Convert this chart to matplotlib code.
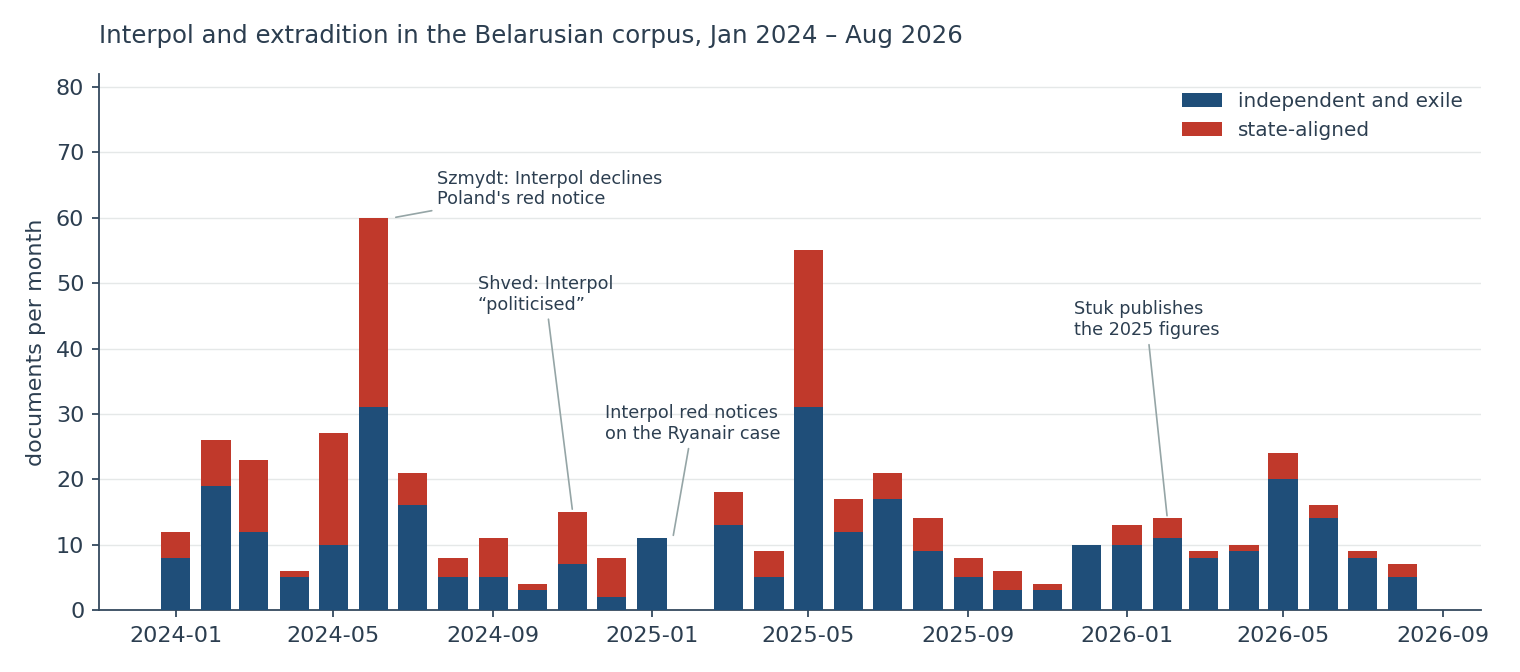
import matplotlib
matplotlib.use("Agg")
import matplotlib.pyplot as plt
import matplotlib.dates as mdates
import numpy as np

# monthly counts, Jan 2024 - Aug 2026 (Feb 2025 empty)
months = ["2024-01", "2024-02", "2024-03", "2024-04", "2024-05", "2024-06",
          "2024-07", "2024-08", "2024-09", "2024-10", "2024-11", "2024-12",
          "2025-01", "2025-02", "2025-03", "2025-04", "2025-05", "2025-06",
          "2025-07", "2025-08", "2025-09", "2025-10", "2025-11", "2025-12",
          "2026-01", "2026-02", "2026-03", "2026-04", "2026-05", "2026-06",
          "2026-07", "2026-08"]
independent = [8, 19, 12, 5, 10, 31, 16, 5, 5, 3, 7, 2,
               11, 0, 13, 5, 31, 12, 17, 9, 5, 3, 3, 10,
               10, 11, 8, 9, 20, 14, 8, 5]
state_aligned = [4, 7, 11, 1, 17, 29, 5, 3, 6, 1, 8, 6,
                 0, 0, 5, 4, 24, 5, 4, 5, 3, 3, 1, 0,
                 3, 3, 1, 1, 4, 2, 1, 2]

notes = [
    ("Szmydt: Interpol declines\nPoland's red notice", "2024-06-16", 60, "2024-07-20", 64.4),
    ("Shved: Interpol\n\u201cpoliticised\u201d", "2024-11-01", 15, "2024-08-20", 48.3),
    ("Interpol red notices\non the Ryanair case", "2025-01-17", 11, "2024-11-26", 28.5),
    ("Stuk publishes\nthe 2025 figures", "2026-02-01", 14, "2025-11-21", 44.4),
]

INK = "#2c3e50"
BLUE = "#1f4e79"
RED = "#c0392b"

dates = np.array([np.datetime64(m + "-01") for m in months])
x = mdates.date2num(dates)

fig = plt.figure(figsize=(15.2, 6.72), dpi=100)
ax = fig.add_axes([0.0651, 0.0923, 0.9092, 0.7976])

ax.bar(x, independent, width=22.5, color=BLUE, label="independent and exile", zorder=3)
ax.bar(x, state_aligned, width=22.5, bottom=independent, color=RED,
       label="state-aligned", zorder=3)

for text, xd, yd, xt, yt in notes:
    ax.annotate(text, xy=(mdates.date2num(np.datetime64(xd)), yd),
                xytext=(mdates.date2num(np.datetime64(xt)), yt),
                ha="left", va="center", fontsize=12.7, color=INK,
                arrowprops=dict(arrowstyle="-", color="#95a5a6", lw=1.2),
                zorder=4)

ax.set_xlim(mdates.date2num(np.datetime64("2023-11-03")),
            mdates.date2num(np.datetime64("2026-09-30")))
ax.set_ylim(0, 82)
ax.xaxis.set_major_locator(mdates.MonthLocator(bymonth=[1, 5, 9]))
ax.xaxis.set_major_formatter(mdates.DateFormatter("%Y-%m"))
ax.set_yticks(range(0, 81, 10))

ax.grid(axis="y", color="#e5e8e8", lw=1, zorder=0)
for side in ("top", "right"):
    ax.spines[side].set_visible(False)
for side in ("left", "bottom"):
    ax.spines[side].set_color("#34495e")
    ax.spines[side].set_linewidth(1.3)
ax.tick_params(colors="#34495e", labelcolor=INK, labelsize=16, length=5, width=1.3)
ax.tick_params(axis="x", pad=6.5)
ax.tick_params(axis="y", pad=5.5)

ax.set_ylabel("documents per month", fontsize=16, color=INK, labelpad=7)
ax.set_title("Interpol and extradition in the Belarusian corpus, Jan 2024 \u2013 Aug 2026",
             loc="left", fontsize=17.6, color=INK, pad=22)
leg = ax.legend(loc="upper right", frameon=False, fontsize=14.4)
for t in leg.get_texts():
    t.set_color(INK)

fig.savefig("out.png", dpi=100)
